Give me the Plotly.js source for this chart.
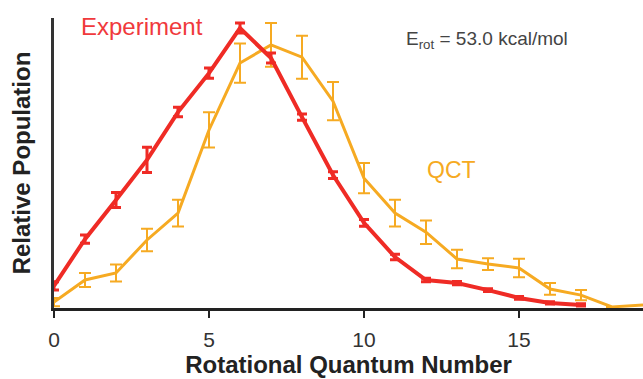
<!DOCTYPE html>
<html>
<head>
<meta charset="utf-8">
<script src="https://cdn.plot.ly/plotly-3.0.1.min.js"></script>
<style>
  html, body { margin: 0; padding: 0; background: #fff; }
  #chart { width: 643px; height: 379px; }
</style>
</head>
<body>
<div id="chart"></div>
<script>
// Rotational quantum numbers
const jExp = [0,1,2,3,4,5,6,7,8,9,10,11,12,13,14,15,16,17];
const popExp = [0.079,0.246,0.386,0.529,0.700,0.839,1.000,0.893,0.682,0.475,0.304,0.182,0.100,0.089,0.064,0.036,0.018,0.011];
const errExp = [0.015,0.015,0.027,0.045,0.017,0.018,0.018,0.018,0.011,0.012,0.012,0.010,0.006,0.006,0.005,0.005,0.004,0.004];

const jQct = [0,1,2,3,4,5,6,7,8,9,10,11,12,13,14,15,16,17,18,19];
const popQct = [0.021,0.100,0.125,0.243,0.339,0.636,0.875,0.940,0.896,0.739,0.464,0.339,0.271,0.175,0.157,0.143,0.068,0.046,0.004,0.011];
const errQct = [0.015,0.025,0.030,0.040,0.048,0.063,0.070,0.078,0.077,0.068,0.054,0.048,0.042,0.033,0.021,0.033,0.021,0.018,0,0];

const xTicks = [0,5,10,15];
const xTickText = ['0','5','10','15'];

const RED = '#ef2b25';
const ORANGE = '#f6aa22';
const FONT = 'Liberation Sans, Arial, sans-serif';

const traces = [
  {
    x: jQct, y: popQct, type: 'scatter', mode: 'lines', name: 'QCT',
    line: {color: ORANGE, width: 3},
    error_y: {type: 'data', array: errQct, visible: true, color: ORANGE, thickness: 2, width: 6},
    cliponaxis: false, showlegend: false
  },
  {
    x: jExp, y: popExp, type: 'scatter', mode: 'lines', name: 'Experiment',
    line: {color: RED, width: 4},
    error_y: {type: 'data', array: errExp, visible: true, color: RED, thickness: 3, width: 5},
    cliponaxis: false, showlegend: false
  }
];

const layout = {
  width: 643, height: 379,
  margin: {l: 54, r: 0, t: 18, b: 71},
  paper_bgcolor: '#fff', plot_bgcolor: '#fff',
  font: {family: FONT, color: '#333'},
  xaxis: {
    range: [0, 19], showgrid: false, zeroline: false,
    showline: true, linecolor: '#222', linewidth: 3,
    tickvals: xTicks, ticktext: xTickText,
    ticks: 'outside', ticklen: 7, tickwidth: 2, tickcolor: '#222',
    ticklabelstandoff: 4,
    tickfont: {family: FONT, size: 21, color: '#333'},
    title: {text: 'Rotational Quantum Number', font: {family: FONT, size: 24, color: '#222', weight: 'bold'}, standoff: 4}
  },
  yaxis: {
    range: [0, 1.036], showgrid: false, zeroline: false,
    showline: true, linecolor: '#333', linewidth: 3,
    showticklabels: false, ticks: '',
    title: {text: 'Relative Population', font: {family: FONT, size: 24, color: '#222', weight: 'bold'}, standoff: 14}
  },
  annotations: [
    {xref: 'paper', yref: 'paper', x: 0.042, y: 0.969, xanchor: 'left', yanchor: 'middle',
     text: 'Experiment', showarrow: false, font: {family: FONT, size: 24, color: '#f0393c'}},
    {xref: 'paper', yref: 'paper', x: 0.63, y: 0.476, xanchor: 'left', yanchor: 'middle',
     text: 'QCT', showarrow: false, font: {family: FONT, size: 23, color: ORANGE}},
    {xref: 'paper', yref: 'paper', x: 0.595, y: 0.925, xanchor: 'left', yanchor: 'middle',
     text: 'E<sub>rot</sub> = 53.0 kcal/mol', showarrow: false, font: {family: FONT, size: 19, color: '#444'}}
  ]
};

Plotly.newPlot('chart', traces, layout, {staticPlot: true, displayModeBar: false});
</script>
</body>
</html>
